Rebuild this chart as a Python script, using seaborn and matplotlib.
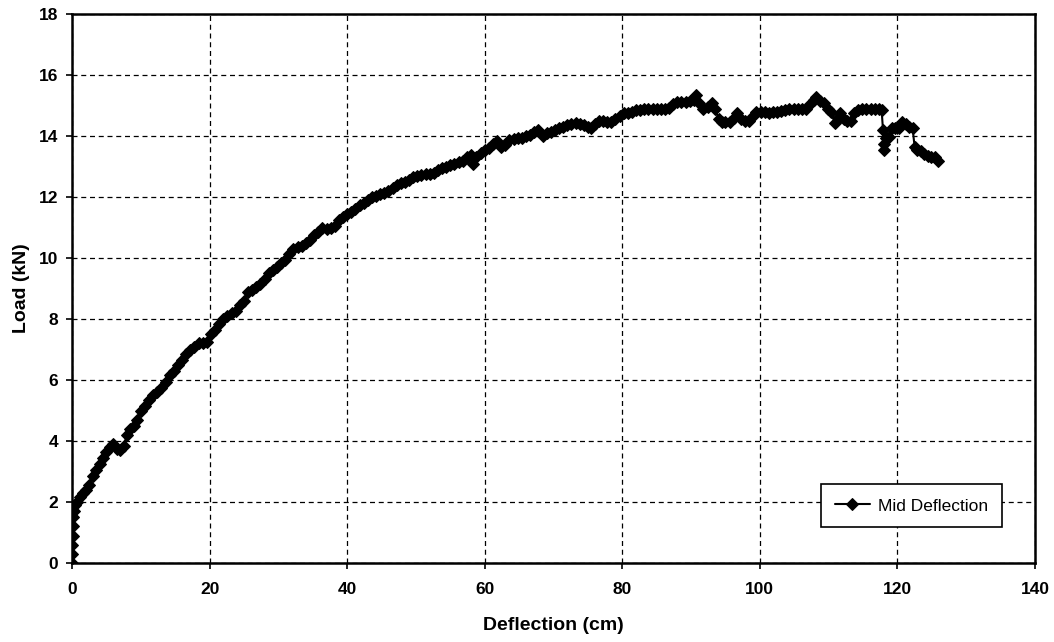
import numpy as np
import pandas as pd
import seaborn as sns
import matplotlib.pyplot as plt

# values
deflection = [
    0, 0, 0.05, 0.1, 0.15, 0.2, 0.3, 0.5, 0.8, 1.2,
    1.6, 2.0, 2.5, 3.0, 3.5, 4.0, 4.5, 5.0, 5.5, 6.0,
    6.5, 7.0, 7.5, 8.0, 8.5, 9.0, 9.5, 10.0, 10.6, 11.2,
    11.8, 12.4, 13.0, 13.6, 14.2, 14.8, 15.4, 16.0, 16.6, 17.2,
    17.8, 18.4, 19.0, 19.6, 20.2, 20.8, 21.4, 22.0, 22.6, 23.2,
    23.8, 24.4, 25.0, 25.6, 26.2, 26.8, 27.4, 28.0, 28.6, 29.2,
    29.8, 30.4, 31.0, 31.6, 32.2, 32.8, 33.4, 34.0, 34.6, 35.2,
    35.8, 36.4, 37.0, 37.6, 38.2, 38.8, 39.4, 40.0, 40.6, 41.2,
    41.8, 42.4, 43.0, 43.6, 44.2, 44.8, 45.4, 46.0, 46.6, 47.2,
    47.8, 48.4, 49.0, 49.6, 50.2, 50.8, 51.4, 52.0, 52.6, 53.2,
    53.8, 54.4, 55.0, 55.6, 56.2, 56.8, 57.4, 58.0, 58.3, 58.8,
    59.4, 60.0, 60.6, 61.2, 61.8, 62.4, 63.0, 63.6, 64.2, 64.8,
    65.4, 66.0, 66.6, 67.2, 67.8, 68.4, 69.0, 69.6, 70.2, 70.8,
    71.4, 72.0, 72.6, 73.2, 73.8, 74.4, 75.0, 75.4, 76.0, 76.6,
    77.2, 77.8, 78.4, 79.0, 79.6, 80.2, 80.8, 81.4, 82.0, 82.6,
    83.2, 83.8, 84.4, 85.0, 85.6, 86.2, 86.8, 87.4, 88.0, 88.6,
    89.2, 89.8, 90.4, 90.7, 91.2, 91.8, 92.4, 93.0, 93.5, 94.0,
    94.5, 95.0, 95.6, 96.2, 96.7, 97.2, 97.8, 98.4, 99.0, 99.5,
    100.1, 100.7, 101.3, 101.9, 102.5, 103.1, 103.7, 104.3, 104.9, 105.5,
    106.1, 106.7, 107.3, 107.8, 108.2, 108.7, 109.3, 109.9, 110.4, 110.9,
    111.3, 111.7, 112.2, 112.7, 113.2, 113.7, 114.3, 114.9, 115.5, 116.1,
    116.7, 117.3, 117.7, 117.9, 118.0, 118.1, 118.3, 118.7, 119.2, 119.7,
    120.2, 120.7, 121.2, 121.7, 122.2, 122.5, 122.9, 123.4, 123.9, 124.4,
    124.9, 125.4, 125.9,
]
load = [
    0, 0.3, 0.6, 0.9, 1.2, 1.5, 1.7, 1.9, 2.0, 2.15,
    2.3, 2.4, 2.55, 2.85, 3.05, 3.25, 3.45, 3.65, 3.8, 3.9,
    3.75, 3.7, 3.85, 4.2, 4.4, 4.5, 4.7, 5.0, 5.15, 5.35,
    5.5, 5.6, 5.75, 5.95, 6.15, 6.3, 6.5, 6.65, 6.85, 7.0,
    7.1, 7.2, 7.2, 7.25, 7.5, 7.65, 7.85, 8.0, 8.1, 8.2,
    8.25, 8.45, 8.6, 8.9, 8.95, 9.05, 9.15, 9.3, 9.5, 9.6,
    9.7, 9.85, 9.95, 10.15, 10.3, 10.35, 10.4, 10.5, 10.6, 10.75,
    10.85, 10.98, 10.95, 11.0, 11.05, 11.25, 11.35, 11.45, 11.5, 11.6,
    11.75, 11.8, 11.9, 12.0, 12.05, 12.1, 12.15, 12.2, 12.3, 12.4,
    12.45, 12.5, 12.55, 12.65, 12.7, 12.72, 12.75, 12.75, 12.8, 12.9,
    12.95, 13.0, 13.05, 13.1, 13.15, 13.2, 13.3, 13.38, 13.1, 13.3,
    13.45, 13.55, 13.6, 13.75, 13.85, 13.65, 13.7, 13.87, 13.9, 13.95,
    13.95, 14.0, 14.05, 14.15, 14.2, 14.0, 14.1, 14.15, 14.2, 14.25,
    14.3, 14.35, 14.4, 14.42, 14.4, 14.35, 14.3, 14.25, 14.4, 14.5,
    14.5, 14.45, 14.47, 14.55, 14.65, 14.75, 14.75, 14.8, 14.85, 14.85,
    14.9, 14.9, 14.9, 14.9, 14.9, 14.9, 14.92, 15.05, 15.12, 15.12,
    15.12, 15.15, 15.2, 15.34, 15.1, 14.88, 14.95, 15.07, 14.9, 14.55,
    14.47, 14.47, 14.47, 14.6, 14.75, 14.55, 14.5, 14.5, 14.65, 14.8,
    14.8, 14.78, 14.75, 14.8, 14.8, 14.82, 14.85, 14.9, 14.9, 14.9,
    14.9, 14.9, 15.05, 15.2, 15.29, 15.15, 15.07, 14.9, 14.8, 14.42,
    14.6, 14.75, 14.55, 14.5, 14.5, 14.75, 14.85, 14.9, 14.9, 14.9,
    14.9, 14.88, 14.85, 14.2, 13.55, 13.75, 13.93, 13.98, 14.25, 14.25,
    14.25, 14.45, 14.4, 14.3, 14.25, 13.65, 13.55, 13.5, 13.4, 13.35,
    13.32, 13.3, 13.2,
]
x_ticks = [0, 20, 40, 60, 80, 100, 120, 140]
y_ticks = [0, 2, 4, 6, 8, 10, 12, 14, 16, 18]

df = pd.DataFrame({"Deflection": deflection, "Load": load})

sns.set_style("white")
plt.rcParams["font.family"] = ["Liberation Sans", "DejaVu Sans"]

fig = plt.figure(figsize=(10.54, 6.42), dpi=100)
ax = fig.add_axes([0.0683, 0.123, 0.9137, 0.855])

sns.lineplot(data=df, x="Deflection", y="Load", sort=False, estimator=None,
             color="black", lw=1.5, marker="D", markersize=6.5,
             markeredgecolor="black", label="Mid Deflection", ax=ax)

ax.set_xlim(0, 140)
ax.set_ylim(0, 18)
ax.set_xticks(x_ticks)
ax.set_yticks(y_ticks)
ax.grid(True, color="black", linestyle=(0, (4, 3)), lw=0.9)
ax.set_axisbelow(True)
for s in ax.spines.values():
    s.set_visible(True)
    s.set_color("black")
    s.set_linewidth(1.8)
ax.tick_params(axis="both", direction="out", length=4, width=1.2, colors="black",
               labelsize=12.5, left=True, bottom=True)
ax.tick_params(axis="x", pad=10)
ax.tick_params(axis="y", pad=6)
for lab in ax.get_xticklabels() + ax.get_yticklabels():
    lab.set_fontweight("bold")
ax.set_xlabel("Deflection (cm)", fontsize=14, fontweight="bold", color="black", labelpad=14)
ax.set_ylabel("Load (kN)", fontsize=14, fontweight="bold", color="black", labelpad=6)

leg = ax.legend(loc="center", bbox_to_anchor=(0.872, 0.104), fancybox=False,
                framealpha=1, edgecolor="black", fontsize=12.5,
                handlelength=2.0, borderpad=0.8, handletextpad=0.5)
leg.get_frame().set_linewidth(1.2)
for t in leg.get_texts():
    t.set_color("black")

fig.savefig("out.png", dpi=100, facecolor="white")
